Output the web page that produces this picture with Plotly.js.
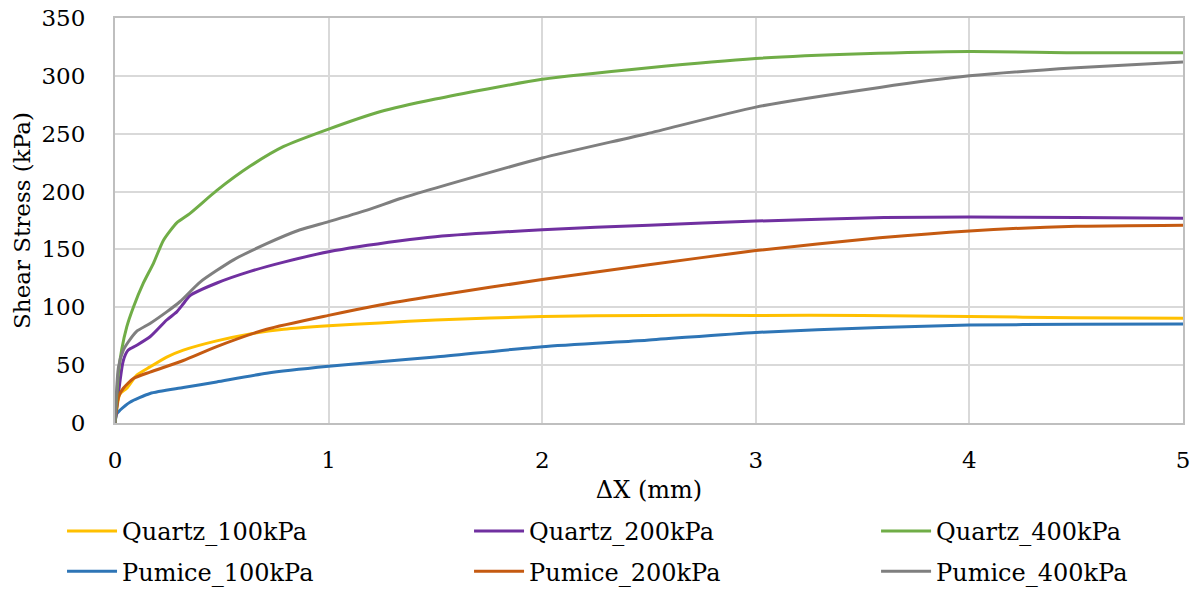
<!DOCTYPE html>
<html>
<head>
<meta charset="utf-8">
<script src="https://cdn.plot.ly/plotly-3.0.1.min.js"></script>
<style>html,body{margin:0;padding:0;background:#fff;}#chart{width:1200px;height:592px;}</style>
</head>
<body>
<div id="chart"></div>
<script>
// Quartz 100 kPa
const quartz100X = [0, 0.023, 0.055, 0.1, 0.164, 0.242, 0.32, 0.476, 0.633, 0.79, 1.0, 1.24, 1.5, 2.0, 2.5, 3.0, 3.5, 4.0, 4.5, 5.0];
const quartz100Y = [0, 25, 30, 41, 48.5, 57, 63, 71, 77, 81, 84, 86.5, 89, 92, 93, 93, 93, 92, 91, 90.5];
// Quartz 200 kPa
const quartz200X = [0, 0.039, 0.062, 0.1, 0.164, 0.242, 0.289, 0.32, 0.35, 0.477, 0.633, 0.79, 1.0, 1.336, 1.5, 2.0, 2.5, 3.0, 3.6, 4.0, 4.5, 5.0];
const quartz200Y = [0, 54, 63, 67, 74.5, 89, 96, 103, 110, 121, 131, 139, 148, 157.5, 161, 167, 171, 174.5, 177.5, 178, 177.5, 177];
// Quartz 400 kPa
const quartz400X = [0, 0.016, 0.031, 0.055, 0.086, 0.133, 0.18, 0.227, 0.289, 0.35, 0.477, 0.633, 0.79, 1.0, 1.24, 1.5, 2.0, 2.5, 3.0, 3.5, 4.0, 4.5, 5.0];
const quartz400Y = [0, 43, 63, 83, 100, 121, 138, 158, 173, 181, 201, 222, 239, 254, 269, 280, 297, 307, 315, 319, 321, 320, 320];
// Pumice 100 kPa
const pumice100X = [0, 0.008, 0.023, 0.07, 0.164, 0.32, 0.476, 0.71, 1.0, 1.24, 1.5, 2.0, 2.49, 3.0, 3.58, 4.0, 4.5, 5.0];
const pumice100Y = [0, 8, 11, 18, 25.5, 30.6, 35.5, 43, 49, 53, 57, 66, 71.6, 78.3, 82.6, 84.6, 85.3, 85.5];
// Pumice 200 kPa
const pumice200X = [0, 0.016, 0.039, 0.086, 0.164, 0.32, 0.476, 0.71, 1.0, 1.24, 1.5, 2.0, 2.49, 3.0, 3.58, 4.0, 4.5, 5.0];
const pumice200Y = [0, 22.5, 30, 38.4, 44, 54, 66, 81, 93, 102, 110, 124, 136.5, 149, 160, 166, 170, 171];
// Pumice 400 kPa
const pumice400X = [0, 0.016, 0.039, 0.062, 0.1, 0.164, 0.242, 0.305, 0.4, 0.555, 0.71, 0.867, 1.0, 1.18, 1.336, 1.5, 2.0, 2.49, 3.0, 3.58, 4.0, 4.5, 5.0];
const pumice400Y = [0, 48, 63, 70, 79, 86, 96, 105, 122, 141, 155, 167, 174, 184, 194, 203, 229, 250, 273, 290, 300, 307, 312];

const seriesNames = ['Quartz_100kPa', 'Pumice_100kPa', 'Quartz_200kPa', 'Pumice_200kPa', 'Quartz_400kPa', 'Pumice_400kPa'];
const seriesColors = ['#FFC000', '#2E75B6', '#7030A0', '#C55A11', '#70AD47', '#7F7F7F'];
const seriesX = [quartz100X, pumice100X, quartz200X, pumice200X, quartz400X, pumice400X];
const seriesY = [quartz100Y, pumice100Y, quartz200Y, pumice200Y, quartz400Y, pumice400Y];
const legendIds = ['legend', 'legend', 'legend2', 'legend2', 'legend3', 'legend3'];

const FONT = 'DejaVu Serif';

const traces = seriesNames.map((name, i) => ({
  type: 'scatter', mode: 'lines', name: name,
  x: seriesX[i], y: seriesY[i],
  line: {color: seriesColors[i], width: 3, shape: 'spline', smoothing: 0.6},
  legend: legendIds[i], legendgroup: name, hoverinfo: 'skip'
}));

function legendAt(x) {
  return {
    x: x, xanchor: 'left', y: -0.2123, yanchor: 'top', orientation: 'v',
    font: {family: FONT, size: 24, color: '#000'},
    bgcolor: 'rgba(0,0,0,0)', borderwidth: 0,
    traceorder: 'grouped', tracegroupgap: 6, itemwidth: 50
  };
}

const layout = {
  width: 1200, height: 592,
  margin: {l: 115, r: 17, t: 18, b: 169, autoexpand: false},
  paper_bgcolor: '#fff', plot_bgcolor: '#fff',
  font: {family: FONT, color: '#000'},
  xaxis: {
    range: [0, 5], dtick: 1, tick0: 0,
    showgrid: true, gridcolor: '#D9D9D9', gridwidth: 2,
    zeroline: false, showline: true, linecolor: '#BFBFBF', linewidth: 2, mirror: true,
    ticks: '', ticklabelstandoff: 15,
    tickfont: {family: FONT, size: 23, color: '#000'},
    title: {text: 'ΔX (mm)', font: {family: FONT, size: 24, color: '#000'}, standoff: 10}
  },
  yaxis: {
    range: [0, 350], dtick: 50, tick0: 0,
    showgrid: true, gridcolor: '#D9D9D9', gridwidth: 2,
    zeroline: false, showline: true, linecolor: '#BFBFBF', linewidth: 2, mirror: true,
    ticks: '', ticklabelstandoff: 23,
    tickfont: {family: FONT, size: 23, color: '#000'},
    title: {text: 'Shear Stress (kPa)', font: {family: FONT, size: 23, color: '#000'}, standoff: 4}
  },
  legend: legendAt(-0.0496),
  legend2: legendAt(0.3315),
  legend3: legendAt(0.7126),
  showlegend: true
};

Plotly.newPlot('chart', traces, layout, {displayModeBar: false, staticPlot: true});
</script>
</body>
</html>
